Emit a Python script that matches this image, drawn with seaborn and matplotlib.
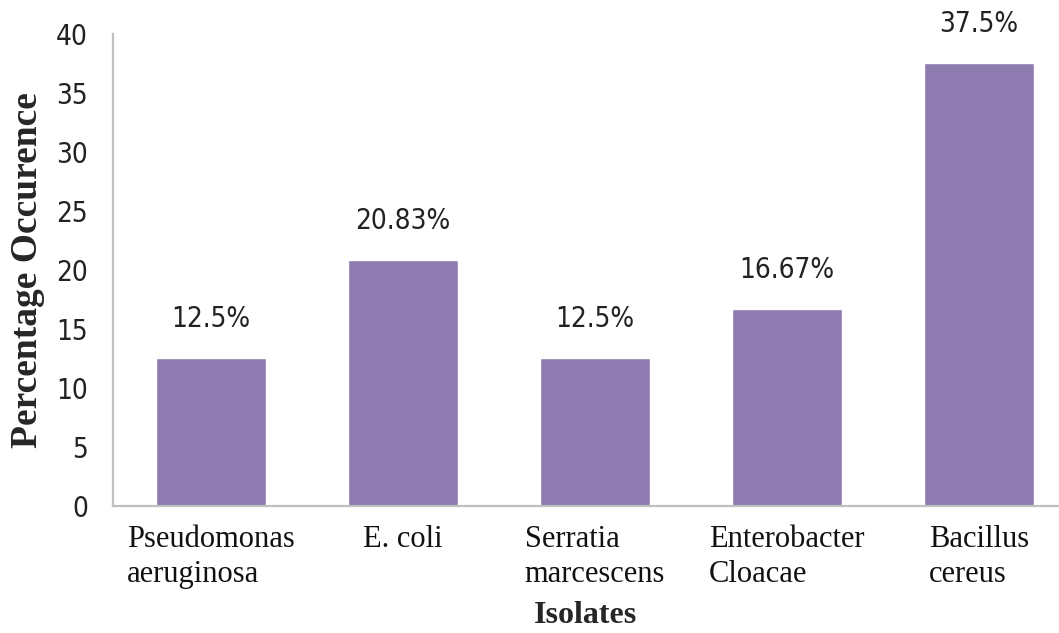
import pandas as pd
import matplotlib
matplotlib.use("Agg")
import matplotlib.pyplot as plt
import seaborn as sns

# data
isolates = ["Pseudomonas\naeruginosa", "E. coli", "Serratia\nmarcescens",
            "Enterobacter\nCloacae", "Bacillus\ncereus"]
occurrence = [12.5, 20.83, 12.5, 16.67, 37.5]
bar_labels = ["12.5%", "20.83%", "12.5%", "16.67%", "37.5%"]

df = pd.DataFrame({"Isolate": isolates, "Occurrence": occurrence})

sns.set_style("white")
narrow = ["Liberation Sans Narrow", "DejaVu Sans"]
serif = ["Liberation Serif", "DejaVu Serif"]

fig = plt.figure(figsize=(10.59, 6.33), dpi=100)
ax = fig.add_axes([0.1067, 0.2006, 0.8933, 0.7464])

sns.barplot(data=df, x="Isolate", y="Occurrence", color="#8E7CB0",
            saturation=1, width=0.573, ax=ax)

ax.set_ylim(0, 40)
ax.set_xlim(-0.51, 4.417)
ax.set_yticks(range(0, 41, 5))

# percentage labels above bars
for i, (v, lab) in enumerate(zip(occurrence, bar_labels)):
    ax.annotate(lab, (i, v), xytext=(0, 18), textcoords="offset points",
                ha="center", va="bottom", fontsize=20, color="#222222",
                family=narrow, fontstretch="condensed")

for side in ["top", "right"]:
    ax.spines[side].set_visible(False)
for side in ["left", "bottom"]:
    ax.spines[side].set_color("#BFBFBF")
    ax.spines[side].set_linewidth(1.6)

ax.tick_params(axis="both", length=0)
ax.tick_params(axis="y", pad=18)
ax.tick_params(axis="x", pad=14)
for t in ax.get_yticklabels():
    t.set_family(narrow)
    t.set_fontstretch("condensed")
    t.set_fontsize(20)
    t.set_color("#222222")
for t in ax.get_xticklabels():
    t.set_family(serif)
    t.set_fontsize(22)
    t.set_color("#111111")
    t.set_multialignment("left")
    t.set_linespacing(1.25)

ax.set_xlabel("Isolates", fontsize=23, fontweight="bold", family=serif,
              labelpad=9)
ax.set_ylabel("Percentage Occurence", fontsize=27, fontweight="bold",
              family=serif, labelpad=8)

fig.savefig("out.png", dpi=100)
